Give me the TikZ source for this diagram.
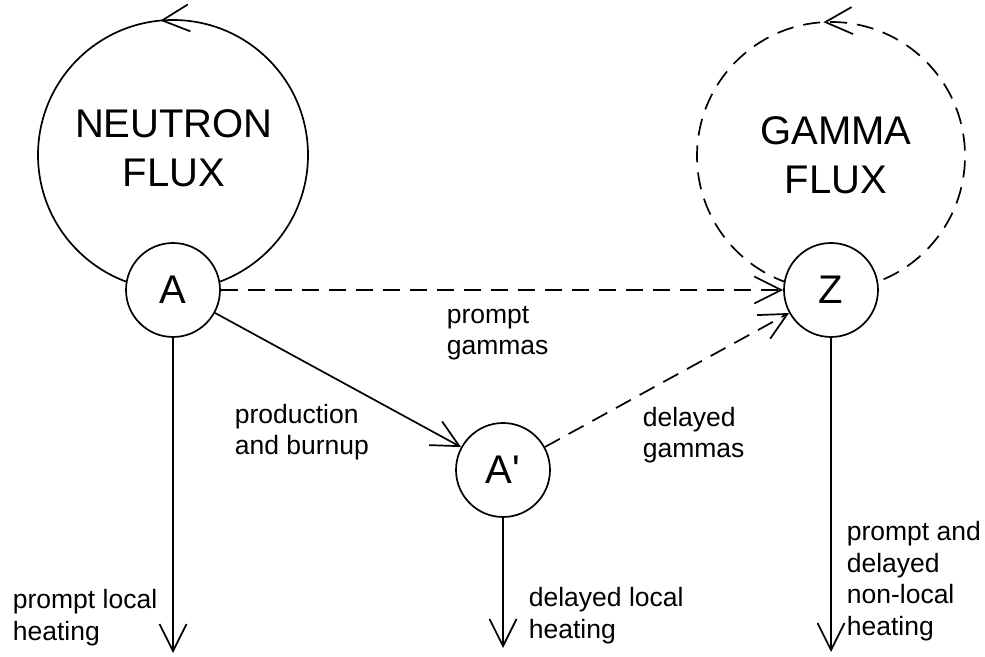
\documentclass[tikz,border=0pt]{standalone}
\usepackage{fontspec}
\setmainfont[Ligatures=TeXOff]{Liberation Sans}
\usetikzlibrary{arrows.meta,decorations.markings,backgrounds}
\begin{document}
\begin{tikzpicture}[x=1pt,y=1pt,line width=1.7pt,
  every node/.style={inner sep=0pt},
  state/.style={circle,draw,fill=white,minimum size=94pt,font=\fontsize{40}{48}\selectfont},
  big/.style={font=\fontsize{40}{49}\selectfont,align=center},
  lbl/.style={font=\fontsize{26.5}{31.5}\selectfont,align=left,anchor=base west},
  tipv/.style={-{Straight Barb[length=27pt,width=27pt]}},
  dsh/.style={dash pattern=on 17pt off 10pt},
  loopline/.style={line width=1.7pt},
  loopmark/.style={postaction={decorate},decoration={markings,mark=at position #1 with {\arrow{Straight Barb[length=27pt,width=27pt]}}}}
]
\useasboundingbox (0,0) rectangle (985,656);
\node[state] (A) at (173,366) {A};
\node[state] (Z) at (831,366) {Z};
\node[state] (Ap) at (503,186) {A'};
\begin{scope}[on background layer]
\draw[loopline,loopmark=0.515] (A.center) arc[start angle=-90,delta angle=360,radius=135pt];
\draw[loopline,dsh,loopmark=0.509] (Z.center) arc[start angle=-90,delta angle=360,radius=134pt];
\end{scope}
\node[big] (nf) at (174,508) {NEUTRON\\FLUX};
\node[big] (gf) at (836,501) {GAMMA\\FLUX};
\coordinate (a0) at (173,3);
\coordinate (ap0) at (503,8);
\coordinate (z0) at (831,4);
\draw[dsh,tipv] (A) -- (Z);
\draw[tipv] (A) -- (Ap);
\draw[dsh,tipv] (Ap) -- (Z);
\draw[tipv] (A) -- (a0);
\draw[tipv] (Ap) -- (ap0);
\draw[tipv] (Z) -- (z0);
\node[lbl] (l1) at (446,301) {prompt\\gammas};
\node[lbl] (l2) at (642,198) {delayed\\gammas};
\node[lbl] (l3) at (234,201) {production\\and burnup};
\node[lbl] (l4) at (12,16) {prompt local\\heating};
\node[lbl] (l5) at (528,18) {delayed local\\heating};
\node[lbl] (l6) at (846,21) {prompt and\\delayed\\non-local\\heating};
\end{tikzpicture}
\end{document}
